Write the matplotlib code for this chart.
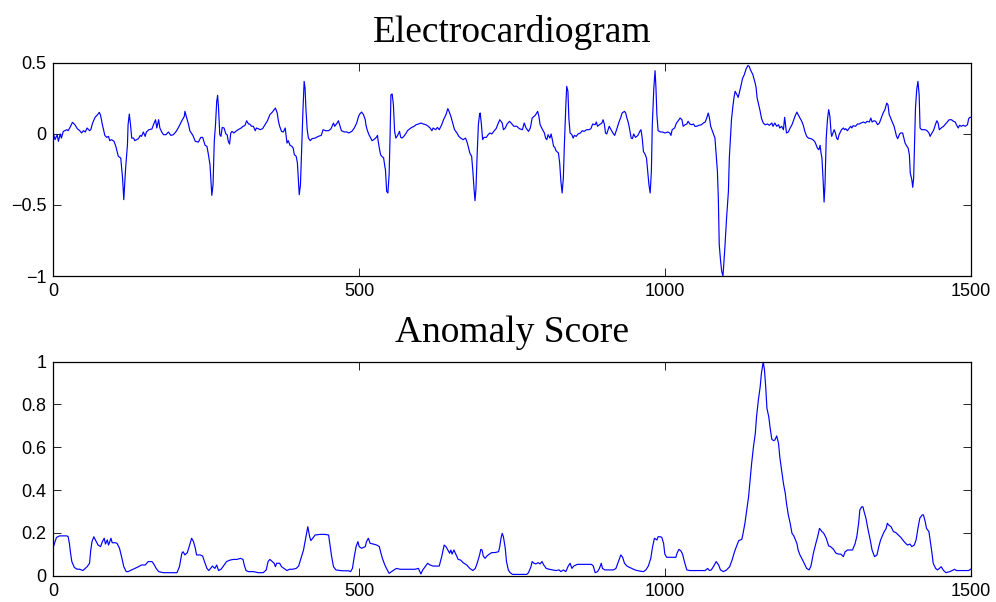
import matplotlib
matplotlib.use("Agg")
import matplotlib.pyplot as plt
from matplotlib.ticker import FuncFormatter

# ECG trace: sample index / amplitude
ecg_t = [
    0, 2.5, 6, 8, 11, 13, 16, 22, 24, 28, 31, 35, 39, 43, 46, 49, 52, 55, 59, 61,
    64, 68, 72, 75, 77, 80, 84, 87, 90, 92, 95, 99, 102, 106, 110, 113, 115, 118, 121, 122,
    124, 126, 128, 131, 133, 136, 139, 142, 144, 147, 150, 152, 156, 161, 164, 167, 169, 172, 174, 177,
    180, 184, 188, 192, 196, 200, 204, 210, 214, 215, 218, 221, 223, 228, 232, 237, 241, 244, 248, 251,
    253, 256, 258, 259, 261, 263, 265, 267, 268.5, 270, 272, 274, 276, 279, 282, 284, 286, 288, 290, 292,
    295, 298, 302, 307, 310, 313, 316, 319, 321, 324, 327, 330, 332, 335, 338, 342, 346, 350, 354, 358,
    361, 363, 366, 368, 370, 373, 376, 379, 380, 382, 384, 387, 390, 392, 394, 397, 399, 400.5, 402, 404,
    406, 408, 410, 411.5, 413, 415, 417, 420, 423, 428, 433, 438, 441, 445, 450, 454, 458, 460, 464, 466,
    468, 471, 476, 480, 483, 488, 492, 496, 499, 501, 504, 507, 510, 511, 513, 516, 519, 521, 524, 528,
    530, 531, 533, 535, 537, 540, 542, 543, 545, 547, 549, 550.5, 552, 554, 556, 558, 560, 563, 566, 568,
    570, 573, 577, 579, 583, 586, 590, 593, 597, 601, 605, 609, 613, 616, 619, 621, 625, 628, 631, 635,
    638, 642, 645, 647, 650, 653, 656, 660, 663, 666, 670, 674, 677, 679, 681, 684, 686, 688, 689.5, 691,
    693, 695, 697, 698, 700, 702, 704, 708, 711, 714, 717, 721, 724, 727, 730, 734, 736, 739, 742, 746,
    750, 753, 758, 762, 767, 770, 773, 777, 780, 783, 788, 792, 794, 796, 800, 803, 805, 807, 809, 812,
    814, 816, 818, 820, 822, 826, 828, 830, 832, 834, 835.5, 838, 839.5, 841.5, 843, 845, 848, 850, 852, 855,
    858, 862, 865, 868, 872, 876, 879, 882, 886, 888, 890, 893, 897, 899, 901, 903, 905, 909, 912, 915,
    918, 922, 925, 928, 930, 934, 936, 938, 940, 942, 945, 947, 949, 952, 956, 959, 961, 963, 965, 968,
    970, 972, 974, 976, 978, 979.5, 982, 984, 985.5, 987, 989, 993, 996, 1000, 1005, 1008, 1010, 1012, 1016, 1019,
    1022, 1025, 1028, 1030, 1033, 1036, 1038, 1041, 1044, 1047, 1049, 1052, 1056, 1060, 1063, 1066, 1068.5, 1071, 1073, 1075,
    1077, 1079, 1082, 1084, 1086, 1087.5, 1089, 1091, 1093, 1095, 1096, 1098.5, 1101, 1104, 1105.5, 1107, 1109, 1111, 1113, 1115,
    1118, 1120, 1123, 1125, 1127, 1130, 1133, 1136, 1138, 1140, 1144, 1147, 1149, 1151, 1153.5, 1156, 1158, 1161, 1164, 1168,
    1171, 1175, 1177, 1180, 1183, 1186, 1188, 1191, 1194, 1196, 1198, 1199, 1202, 1205, 1208, 1211, 1213.5, 1216, 1218, 1221,
    1224, 1227, 1229, 1232, 1235, 1239, 1242, 1245, 1247, 1249.5, 1252, 1254, 1255.5, 1257, 1259, 1260.5, 1262, 1264, 1266, 1268,
    1270, 1272, 1273, 1276, 1277, 1279, 1281, 1283, 1285, 1289, 1292, 1294, 1296, 1298.5, 1301, 1304, 1306, 1308, 1312, 1315,
    1318, 1321, 1325, 1328, 1331, 1334.5, 1337, 1339, 1342, 1345, 1348, 1351, 1354, 1357, 1360, 1363, 1365, 1367, 1369, 1372,
    1375, 1377, 1379, 1381, 1384, 1386, 1389, 1391, 1393, 1396, 1398, 1400, 1401.5, 1404, 1405.5, 1407, 1408.5, 1410, 1412, 1414,
    1416, 1417.5, 1420, 1423, 1426, 1429, 1432, 1434, 1436, 1438, 1440, 1442.5, 1445, 1447, 1449, 1452, 1456, 1459, 1462, 1465,
    1469, 1472, 1475, 1477, 1480, 1482, 1485, 1488, 1491.5, 1495, 1497, 1499, 1500,
]
ecg_v = [
    0.0, -0.041, -0.006, -0.053, -0.001, -0.030, 0.017, 0.029, 0.022, 0.053, 0.081, 0.064, 0.036, 0.022, 0.006, 0.022, 0.013, 0.041, 0.022, 0.029,
    0.076, 0.116, 0.134, 0.151, 0.130, 0.064, -0.011, -0.025, -0.018, -0.048, -0.041, -0.053, -0.088, -0.158, -0.170, -0.311, -0.463, -0.241, -0.076, 0.064,
    0.139, 0.064, -0.030, -0.030, -0.048, -0.041, -0.034, -0.011, -0.018, 0.013, -0.018, 0.013, 0.029, 0.034, 0.069, 0.099, 0.041, 0.099, 0.041, 0.013,
    -0.006, -0.006, 0.013, -0.011, -0.006, 0.013, 0.041, 0.092, 0.123, 0.158, 0.111, 0.064, 0.022, -0.011, -0.053, -0.058, -0.025, -0.025, -0.081, -0.088,
    -0.135, -0.217, -0.358, -0.433, -0.358, -0.053, 0.064, 0.228, 0.271, 0.181, -0.006, -0.018, 0.045, 0.041, -0.001, -0.006, -0.053, -0.072, 0.006, 0.017,
    0.006, 0.017, 0.029, 0.041, 0.053, 0.057, 0.092, 0.069, 0.069, 0.053, 0.053, 0.022, 0.041, 0.036, 0.029, 0.036, 0.064, 0.092, 0.135, 0.153,
    0.170, 0.181, 0.146, 0.088, 0.053, 0.017, 0.013, 0.041, 0.006, -0.065, -0.048, -0.081, -0.088, -0.100, -0.147, -0.158, -0.205, -0.311, -0.428, -0.358,
    -0.100, 0.158, 0.369, 0.322, 0.170, 0.029, -0.030, -0.048, -0.034, -0.030, -0.018, -0.011, 0.029, 0.022, 0.022, 0.036, 0.076, 0.053, 0.076, 0.092,
    0.064, 0.022, 0.013, 0.013, 0.006, 0.017, 0.041, 0.076, 0.123, 0.139, 0.153, 0.135, 0.099, 0.064, 0.029, -0.006, -0.030, -0.048, -0.041, -0.025,
    -0.011, -0.048, -0.100, -0.147, -0.158, -0.170, -0.229, -0.252, -0.405, -0.416, -0.287, -0.030, 0.275, 0.280, 0.205, 0.017, -0.030, -0.011, 0.017, -0.025,
    -0.030, -0.018, 0.006, 0.022, 0.036, 0.045, 0.053, 0.064, 0.069, 0.076, 0.069, 0.064, 0.053, 0.041, 0.022, 0.041, 0.029, 0.045, 0.029, 0.064,
    0.099, 0.135, 0.177, 0.158, 0.123, 0.076, 0.029, 0.006, -0.018, -0.030, -0.041, -0.030, -0.065, -0.100, -0.135, -0.158, -0.264, -0.393, -0.470, -0.393,
    -0.147, 0.064, 0.139, 0.146, 0.064, -0.041, -0.025, -0.025, -0.006, 0.006, -0.001, 0.022, 0.036, 0.069, 0.099, 0.076, 0.029, 0.041, 0.069, 0.088,
    0.069, 0.053, 0.053, 0.036, 0.029, 0.076, 0.041, 0.017, 0.041, 0.111, 0.130, 0.158, 0.123, 0.064, 0.029, 0.006, -0.030, -0.041, -0.006, -0.030,
    -0.001, -0.041, -0.088, -0.095, -0.119, -0.135, -0.205, -0.334, -0.416, -0.311, -0.100, 0.193, 0.334, 0.299, 0.111, 0.006, -0.006, -0.030, -0.011, -0.018,
    -0.001, 0.006, 0.022, 0.017, 0.029, 0.029, 0.036, 0.069, 0.064, 0.083, 0.053, 0.064, 0.076, 0.099, 0.069, 0.006, -0.001, 0.053, 0.029, 0.006,
    -0.011, 0.041, 0.083, 0.116, 0.146, 0.158, 0.146, 0.111, 0.083, 0.041, -0.030, -0.034, -0.001, -0.025, -0.011, 0.017, 0.029, -0.030, -0.124, -0.147,
    -0.170, -0.264, -0.358, -0.416, -0.264, 0.064, 0.322, 0.444, 0.322, 0.135, 0.022, 0.013, 0.013, 0.006, 0.013, 0.006, -0.011, 0.029, 0.041, 0.076,
    0.092, 0.111, 0.099, 0.053, 0.064, 0.069, 0.088, 0.069, 0.064, 0.069, 0.053, 0.053, 0.060, 0.064, 0.076, 0.083, 0.111, 0.146, 0.111, 0.053,
    0.029, 0.006, -0.030, -0.147, -0.264, -0.451, -0.779, -0.885, -0.967, -1.0, -0.944, -0.779, -0.592, -0.405, -0.170, -0.053, 0.099, 0.181, 0.252, 0.299,
    0.275, 0.256, 0.310, 0.346, 0.388, 0.416, 0.458, 0.481, 0.474, 0.451, 0.416, 0.369, 0.334, 0.252, 0.205, 0.158, 0.111, 0.076, 0.064, 0.069,
    0.060, 0.076, 0.053, 0.076, 0.053, 0.064, 0.041, 0.053, 0.029, 0.116, 0.041, 0.006, 0.013, 0.041, 0.064, 0.099, 0.130, 0.153, 0.135, 0.111,
    0.088, 0.053, 0.017, -0.018, -0.030, -0.034, -0.041, -0.053, -0.072, -0.100, -0.112, -0.081, -0.135, -0.170, -0.334, -0.480, -0.358, -0.030, 0.099, 0.170,
    0.123, 0.006, -0.018, 0.017, 0.029, 0.006, -0.030, -0.041, -0.006, 0.029, 0.041, 0.029, 0.036, 0.022, 0.036, 0.053, 0.041, 0.057, 0.053, 0.069,
    0.069, 0.076, 0.083, 0.076, 0.088, 0.083, 0.111, 0.083, 0.092, 0.088, 0.064, 0.076, 0.111, 0.146, 0.170, 0.216, 0.205, 0.135, 0.116, 0.083,
    0.053, 0.017, -0.018, -0.034, -0.001, 0.006, 0.006, -0.030, -0.065, -0.088, -0.100, -0.147, -0.276, -0.323, -0.376, -0.311, -0.076, 0.181, 0.310, 0.369,
    0.275, 0.041, 0.029, 0.029, 0.029, 0.022, 0.006, -0.018, -0.001, 0.013, 0.029, 0.064, 0.092, 0.076, 0.029, 0.041, 0.053, 0.069, 0.083, 0.099,
    0.099, 0.088, 0.083, 0.064, 0.041, 0.060, 0.053, 0.060, 0.053, 0.064, 0.106, 0.116, 0.116,
]

# anomaly score over the same samples
score_t = [
    0, 2.5, 5, 10, 16, 22, 24, 26, 28, 30, 34, 38, 43, 48, 52, 55, 59, 61, 63, 66,
    70, 73, 77, 80, 83, 85, 88, 90, 94, 96, 101, 104, 108, 112, 115, 119, 122, 128, 133, 139,
    144, 150, 155, 161, 164, 168, 172, 180, 191, 202, 206, 210, 212, 215, 219, 222, 226, 229, 232, 234,
    240, 244, 247, 251, 254, 257, 260, 264, 267, 270, 274, 278, 283, 289, 294, 300, 306, 310, 312, 315,
    319, 327, 335, 343, 348, 351, 354, 358, 361, 363, 365, 370, 373, 377, 382, 386, 391, 397, 401, 404,
    409, 412, 414, 416, 419, 421, 424, 428, 436, 444, 450, 452, 455, 458, 462, 469, 474, 482, 486, 489,
    492, 495, 498, 500, 504, 510, 512, 515, 518, 523, 529, 533, 535, 538, 542, 546, 549, 553, 557, 561,
    567, 575, 583, 591, 597, 601, 604, 608, 612, 616, 621, 631, 635, 639, 642, 645, 648, 650, 652, 655,
    658, 662, 666, 670, 676, 681, 686, 690, 693, 697, 699, 701, 703, 706, 709, 713, 717, 722, 728, 730,
    732, 734, 736, 739, 741, 744, 747, 751, 758, 766, 774, 777, 781, 783, 786, 789, 793, 796, 799, 802,
    806, 811, 817, 822, 827, 830, 834, 838, 842, 845, 848, 851, 857, 864, 872, 880, 883, 886, 890, 893,
    896, 898, 902, 909, 916, 920, 924, 928, 931, 934, 938, 942, 946, 951, 958, 965, 969, 973, 977, 980,
    983, 987, 989, 993, 995, 998, 1000, 1003, 1011, 1018, 1020, 1023, 1026, 1029, 1032, 1036, 1041, 1049, 1058, 1066,
    1070, 1073, 1076, 1080, 1084, 1088, 1091, 1096, 1101, 1106, 1110, 1114, 1118, 1121, 1126, 1128, 1131, 1134, 1137, 1139,
    1142, 1145, 1148, 1150, 1153, 1156, 1158, 1161, 1163, 1165, 1167, 1170, 1172, 1175, 1178, 1180, 1183, 1186, 1188, 1191,
    1194, 1197, 1199, 1202, 1205, 1208, 1211, 1216, 1218, 1221, 1224, 1228, 1232, 1236, 1239, 1243, 1247, 1250, 1253, 1257,
    1260, 1264, 1268, 1271, 1276, 1280, 1284, 1288, 1292, 1295, 1299, 1303, 1307, 1311, 1314, 1317, 1319, 1322, 1324, 1326,
    1329, 1332, 1336, 1339, 1343, 1347, 1350, 1353, 1358, 1362, 1364, 1366, 1370, 1374, 1378, 1382, 1386, 1390, 1394, 1397,
    1401, 1404, 1408, 1411, 1414, 1417, 1421, 1423, 1426, 1428, 1432, 1434, 1437, 1439, 1443, 1446, 1449, 1452, 1456, 1460,
    1466, 1470, 1474, 1477, 1483, 1491, 1497, 1500,
]
score_v = [
    0.136, 0.159, 0.179, 0.186, 0.186, 0.186, 0.182, 0.151, 0.104, 0.066, 0.039, 0.031, 0.030, 0.024, 0.034, 0.042, 0.058, 0.120, 0.159, 0.182,
    0.159, 0.143, 0.136, 0.159, 0.175, 0.148, 0.167, 0.143, 0.175, 0.154, 0.154, 0.151, 0.128, 0.081, 0.042, 0.019, 0.019, 0.027, 0.034, 0.042,
    0.050, 0.050, 0.066, 0.066, 0.055, 0.034, 0.019, 0.014, 0.014, 0.014, 0.042, 0.105, 0.112, 0.097, 0.108, 0.136, 0.175, 0.159, 0.128, 0.097,
    0.097, 0.092, 0.066, 0.034, 0.024, 0.034, 0.045, 0.034, 0.050, 0.024, 0.030, 0.045, 0.066, 0.073, 0.076, 0.076, 0.081, 0.076, 0.050, 0.024,
    0.019, 0.019, 0.014, 0.014, 0.027, 0.066, 0.076, 0.066, 0.058, 0.042, 0.058, 0.058, 0.042, 0.034, 0.024, 0.030, 0.030, 0.034, 0.045, 0.073,
    0.120, 0.167, 0.201, 0.229, 0.182, 0.164, 0.175, 0.190, 0.193, 0.193, 0.190, 0.151, 0.089, 0.042, 0.027, 0.024, 0.023, 0.023, 0.019, 0.034,
    0.089, 0.136, 0.159, 0.136, 0.128, 0.136, 0.159, 0.175, 0.151, 0.148, 0.143, 0.136, 0.112, 0.081, 0.050, 0.027, 0.011, 0.019, 0.027, 0.034,
    0.030, 0.030, 0.030, 0.030, 0.034, 0.008, 0.027, 0.042, 0.058, 0.050, 0.045, 0.045, 0.089, 0.143, 0.136, 0.120, 0.105, 0.120, 0.101, 0.120,
    0.101, 0.076, 0.073, 0.061, 0.050, 0.034, 0.024, 0.034, 0.058, 0.097, 0.123, 0.120, 0.092, 0.081, 0.092, 0.101, 0.108, 0.108, 0.112, 0.136,
    0.175, 0.198, 0.182, 0.128, 0.066, 0.027, 0.014, 0.006, 0.006, 0.006, 0.006, 0.014, 0.042, 0.066, 0.058, 0.055, 0.061, 0.055, 0.066, 0.050,
    0.034, 0.030, 0.027, 0.024, 0.027, 0.019, 0.027, 0.019, 0.045, 0.058, 0.034, 0.045, 0.053, 0.053, 0.053, 0.053, 0.045, 0.014, 0.019, 0.034,
    0.058, 0.034, 0.027, 0.027, 0.027, 0.034, 0.066, 0.097, 0.086, 0.058, 0.045, 0.039, 0.034, 0.027, 0.022, 0.019, 0.027, 0.045, 0.081, 0.136,
    0.175, 0.167, 0.182, 0.182, 0.179, 0.151, 0.101, 0.086, 0.086, 0.086, 0.105, 0.123, 0.117, 0.101, 0.066, 0.027, 0.024, 0.024, 0.024, 0.024,
    0.034, 0.024, 0.027, 0.045, 0.066, 0.050, 0.027, 0.019, 0.027, 0.042, 0.073, 0.112, 0.143, 0.164, 0.170, 0.198, 0.245, 0.307, 0.369, 0.431,
    0.525, 0.603, 0.665, 0.743, 0.821, 0.883, 0.946, 1.0, 0.961, 0.883, 0.782, 0.743, 0.696, 0.637, 0.631, 0.634, 0.653, 0.618, 0.556, 0.494,
    0.431, 0.385, 0.338, 0.284, 0.245, 0.198, 0.186, 0.151, 0.120, 0.097, 0.081, 0.058, 0.034, 0.027, 0.045, 0.105, 0.151, 0.182, 0.221, 0.206,
    0.198, 0.175, 0.139, 0.136, 0.123, 0.105, 0.101, 0.101, 0.089, 0.112, 0.120, 0.120, 0.120, 0.148, 0.182, 0.245, 0.307, 0.322, 0.322, 0.299,
    0.268, 0.221, 0.167, 0.120, 0.089, 0.097, 0.136, 0.167, 0.201, 0.221, 0.245, 0.237, 0.229, 0.206, 0.201, 0.190, 0.179, 0.164, 0.151, 0.143,
    0.148, 0.136, 0.143, 0.167, 0.221, 0.268, 0.284, 0.284, 0.252, 0.221, 0.206, 0.167, 0.105, 0.058, 0.034, 0.027, 0.034, 0.042, 0.024, 0.014,
    0.019, 0.024, 0.030, 0.024, 0.024, 0.024, 0.024, 0.030,
]

ecg_ticks = [-1, -0.5, 0, 0.5]
score_ticks = [0, 0.2, 0.4, 0.6, 0.8, 1]
x_ticks = [0, 500, 1000, 1500]

line_color = "#0000ff"
title_font = {"family": "Liberation Serif", "size": 27}


def tick_text(val, pos):
    # plain %g labels, but with a proper minus sign
    return ("%g" % val).replace("-", "\u2212")


def style_axes(ax):
    ax.set_xlim(0, 1500)
    ax.set_xticks(x_ticks)
    ax.tick_params(direction="in", top=True, right=True, length=6, width=0.6,
                   labelsize=13, pad=5)
    for lab in ax.get_xticklabels() + ax.get_yticklabels():
        lab.set_family("Liberation Sans")
    for sp in ax.spines.values():
        sp.set_linewidth(0.9)
    ax.yaxis.set_major_formatter(FuncFormatter(tick_text))


if __name__ == "__main__":
    fig = plt.figure(figsize=(9.96, 6.02), dpi=100)

    ax1 = fig.add_axes([0.0537, 0.5415, 0.9207, 0.3543])
    ax1.plot(ecg_t, ecg_v, color=line_color, linewidth=0.85)
    ax1.set_ylim(-1, 0.5)
    ax1.set_yticks(ecg_ticks)
    style_axes(ax1)
    ax1.set_title("Electrocardiogram", fontdict=title_font, pad=15)

    ax2 = fig.add_axes([0.0537, 0.0437, 0.9207, 0.3555])
    ax2.plot(score_t, score_v, color=line_color, linewidth=0.85)
    ax2.set_ylim(0, 1)
    ax2.set_yticks(score_ticks)
    style_axes(ax2)
    ax2.set_title("Anomaly Score", fontdict=title_font, pad=14)

    fig.savefig("out.png", dpi=100)
